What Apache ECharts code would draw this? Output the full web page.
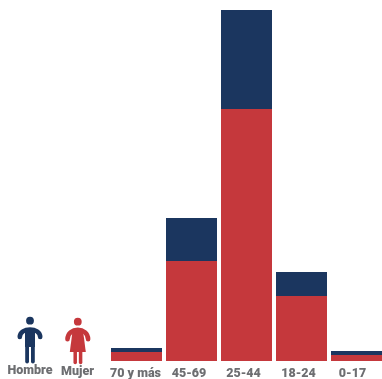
<!DOCTYPE html>
<html>
<head>
<meta charset="utf-8">
<style>html,body{margin:0;padding:0;background:#fff}#chart{width:382px;height:379px}</style>
<script src="https://cdn.jsdelivr.net/npm/echarts@6/dist/echarts.min.js"></script>
</head>
<body>
<div id="chart"></div>
<script>
// Age groups, stacked from the bottom: women, then men
const categories = ['70 y más', '45-69', '25-44', '18-24', '0-17'];
const mujer = [9, 100, 252, 65, 6];
const hombre = [4, 43, 99, 24, 4];
const navy = '#1b365f';
const red = '#c5383c';
const grey = '#6d6e71';

const labelFont = { fontFamily: 'Roboto', fontWeight: 900, fontSize: 12.5, fill: grey };

// Each tick label sits a little left of its bar, by a growing amount
const labelInset = [2, 5, 6, 6, 8];
const tickStyles = {};
labelInset.forEach((inset, i) => {
  tickStyles['t' + i] = { color: grey, fontFamily: 'Roboto', fontWeight: 900, fontSize: 12.5, padding: [0, inset, 0, 0] };
});

// Shared pieces of the pictograms: rounded limbs and filled shapes
const limb = (x1, y1, x2, y2, w, color) => ({
  type: 'line', shape: { x1, y1, x2, y2 },
  style: { stroke: color, lineWidth: w, lineCap: 'round' }
});
const arms = (cx, top, half, drop, color) => ({
  type: 'bezierCurve',
  shape: {
    x1: cx - half, y1: top + drop,
    cpx1: cx - half, cpy1: top - drop / 3,
    cpx2: cx + half, cpy2: top - drop / 3,
    x2: cx + half, y2: top + drop
  },
  style: { stroke: color, fill: null, lineWidth: 4.6, lineCap: 'round' }
});

const manIcon = (cx, color) => [
  { type: 'circle', shape: { cx, cy: 320.7, r: 3.9 }, style: { fill: color } },
  arms(cx, 329.5, 10.2, 7.5, color),
  { type: 'rect', shape: { x: cx - 5, y: 328, width: 10, height: 19 }, style: { fill: color } },
  limb(cx - 2.9, 346, cx - 2.9, 361.5, 3.8, color),
  limb(cx + 2.9, 346, cx + 2.9, 361.5, 3.8, color)
];

const womanIcon = (cx, color) => [
  { type: 'circle', shape: { cx, cy: 321.7, r: 3.9 }, style: { fill: color } },
  arms(cx, 329.8, 10.3, 9.5, color),
  { type: 'polygon', shape: { points: [[cx - 5, 329], [cx + 5, 329], [cx + 8, 352], [cx - 8, 352]] }, style: { fill: color } },
  limb(cx - 2.6, 351, cx - 2.6, 362.5, 3.5, color),
  limb(cx + 2.8, 351, cx + 2.8, 362.5, 3.5, color)
];

const chart = echarts.init(document.getElementById('chart'), null, { renderer: 'canvas' });
chart.setOption({
  animation: false,
  backgroundColor: '#fff',
  grid: { left: 109, width: 275, top: 10, bottom: 18, outerBoundsMode: 'none' },
  xAxis: {
    type: 'category',
    data: categories,
    axisLine: { show: false },
    axisTick: { show: false },
    axisLabel: {
      margin: 6,
      interval: 0,
      formatter: (value, index) => `{t${index}|${value}}`,
      rich: tickStyles
    }
  },
  yAxis: { type: 'value', min: 0, max: 351, show: false },
  series: [
    { name: 'Mujer', type: 'bar', stack: 'total', data: mujer, barWidth: 51, itemStyle: { color: red } },
    { name: 'Hombre', type: 'bar', stack: 'total', data: hombre, barWidth: 51, itemStyle: { color: navy } }
  ],
  graphic: [
    ...manIcon(30, navy),
    ...womanIcon(77.8, red),
    { type: 'text', x: 30, y: 371, style: { ...labelFont, text: 'Hombre', align: 'center', verticalAlign: 'middle' } },
    { type: 'text', x: 77.5, y: 372, style: { ...labelFont, text: 'Mujer', align: 'center', verticalAlign: 'middle' } }
  ]
});
</script>
</body>
</html>
